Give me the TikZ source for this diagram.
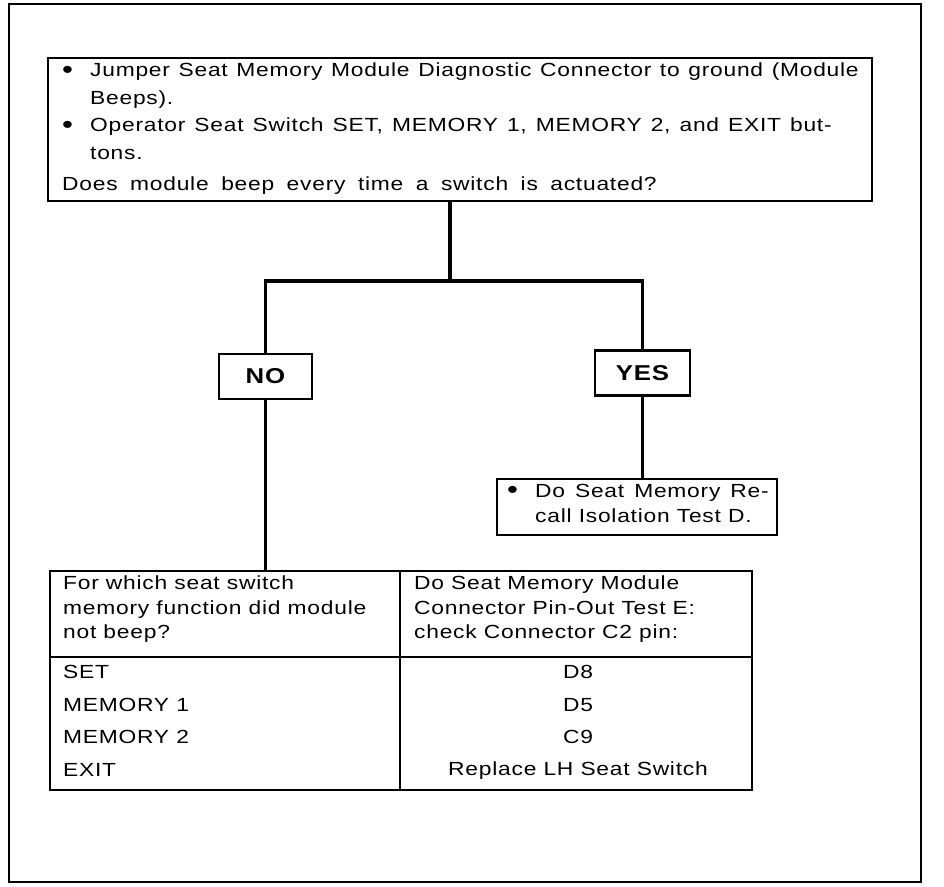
\documentclass[tikz,border=0pt]{standalone}
\usepackage{fontspec}
\setmainfont{Liberation Sans}[FakeStretch=1.2, LetterSpace=4]
\usetikzlibrary{positioning,calc}
\tikzset{
  blk/.style={draw, line width=2.2pt, inner sep=0pt, anchor=north west},
  wire/.style={line width=3.2pt},
  lbl/.style={draw, line width=2.2pt, minimum width=93pt, minimum height=45pt, inner sep=0pt, font=\fontsize{21.5}{21.5}\selectfont\bfseries},
  cell/.style={inner sep=0pt, font=\fontsize{19}{24.5}\selectfont},
}
\newcommand{\bul}{\makebox[28pt][l]{\raisebox{-1.5pt}{\fontsize{26}{26}\selectfont\textbullet}}}
\newcommand{\ind}{\hspace*{28pt}}

\begin{document}
\begin{tikzpicture}[x=1pt, y=-1pt]
  \useasboundingbox (0,0) rectangle (944,886);
  \draw[line width=2pt] (9,4) rectangle (921,882);
  % question
  \node[blk, minimum width=824pt, minimum height=143pt] (qbox) at (47,57) {};
  \node[cell, anchor=north west, align=left, font=\fontsize{19}{27.5}\selectfont] (qtxt) at (62,63)
    {\spaceskip=8.6pt \bul Jumper Seat Memory Module Diagnostic Connector to ground (Module\\
     \ind Beeps).\\
     \spaceskip=9pt \bul Operator Seat Switch SET, MEMORY 1, MEMORY 2, and EXIT but-\\
     \ind tons.\\[4pt]
     \spaceskip=12.5pt Does module beep every time a switch is actuated?};
  % branches
  \node[lbl] (no) at (265.5,376.5) {NO};
  \node[lbl, minimum width=95pt] (yes) at (642.5,373) {YES};
  \coordinate (split) at (450,281);
  \draw[wire] (qbox.south -| split) -- (split);
  \draw[wire] (split) -| (no.north);
  \draw[wire] (split) -| (yes.north);
  % yes result
  \node[blk, minimum width=280pt, minimum height=56pt] (recall) at (496,478) {};
  \node[cell, anchor=north west, align=left, font=\fontsize{19}{25}\selectfont] (rtxt) at (507,484)
    {\spaceskip=10pt \bul Do Seat Memory Re-\\ \ind call Isolation Test D.};
  \draw[wire] (yes.south) -- (yes.south |- recall.north);
  % no result table
  \node[blk, minimum width=702pt, minimum height=219pt] (tbl) at (49,570) {};
  \draw[line width=2.2pt] (400,570) -- (400,789);
  \draw[line width=2.2pt] (49,657) -- (751,657);
  \draw[wire] (no.south) -- (no.south |- tbl.north);
  \node[cell, anchor=north west, align=left] (hdl) at (63,576)
    {For which seat switch\\ memory function did module\\ not beep?};
  \node[cell, anchor=north west, align=left] (hdr) at (414,576)
    {Do Seat Memory Module\\ Connector Pin-Out Test E:\\ check Connector C2 pin:};
  \foreach \sw/\pin [count=\i] in {SET/D8, MEMORY 1/D5, MEMORY 2/C9, EXIT/Replace LH Seat Switch} {
    \node[cell, anchor=west] (sw\i) at (63,{672+32.7*(\i-1)}) {\sw};
    \node[cell] (pin\i) at (578,{672+32.7*(\i-1)}) {\pin};
  }
\end{tikzpicture}
\end{document}
